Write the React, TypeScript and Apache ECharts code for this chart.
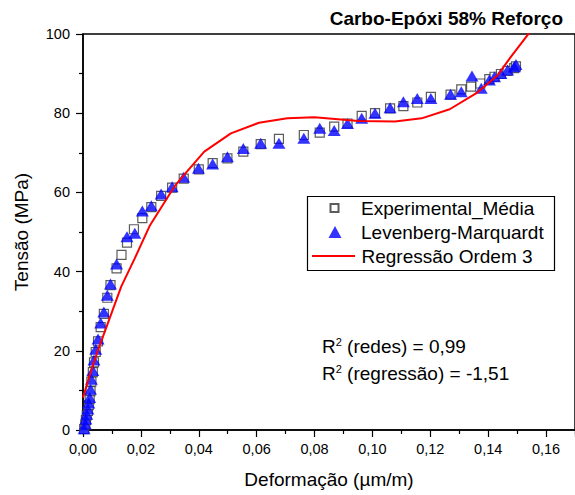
import React, { useEffect, useRef } from "react";
import * as echarts from "echarts";

const FONT = "'Liberation Sans', Arial, sans-serif";

const titleText = "Carbo-Epóxi 58% Reforço";
const xName = "Deformação (µm/m)";
const yName = "Tensão (MPa)";
const seriesNames = ["Experimental_Média", "Levenberg-Marquardt", "Regressão Ordem 3"];

// Experimental_Média (squares)
const expX = [0.0004, 0.0008, 0.001, 0.0013, 0.0017, 0.002, 0.0023, 0.0026, 0.0029, 0.0034, 0.0038, 0.0044, 0.0052, 0.0061, 0.0072, 0.0084, 0.0095, 0.0116, 0.0133, 0.0152, 0.0176, 0.0205, 0.0236, 0.027, 0.0308, 0.0348, 0.04, 0.0448, 0.0499, 0.0554, 0.0614, 0.0677, 0.0763, 0.0818, 0.0868, 0.0914, 0.0963, 0.1009, 0.1061, 0.1107, 0.1155, 0.1202, 0.127, 0.1307, 0.1341, 0.1373, 0.1404, 0.1422, 0.1444, 0.1467, 0.149, 0.1496];
const expY = [0.2, 1.3, 2.5, 3.7, 4.8, 6.3, 7.8, 9.8, 12.2, 14.6, 17.1, 19.7, 22.4, 26.0, 29.3, 33.4, 36.6, 40.8, 44.2, 47.3, 50.7, 53.5, 56.3, 59.1, 61.2, 63.5, 65.8, 67.4, 68.6, 70.3, 72.2, 73.5, 74.5, 75.1, 76.6, 77.4, 79.3, 80.0, 81.2, 81.8, 82.7, 84.1, 84.7, 86.0, 86.7, 87.5, 88.6, 89.2, 89.9, 90.7, 91.4, 91.8];

// Levenberg-Marquardt (triangles)
const lmX = [0.0004, 0.0008, 0.001, 0.0013, 0.0017, 0.002, 0.0023, 0.0026, 0.0029, 0.0034, 0.0038, 0.0044, 0.0052, 0.0061, 0.0072, 0.0084, 0.0095, 0.0116, 0.0152, 0.0179, 0.0205, 0.0236, 0.027, 0.0308, 0.0348, 0.0399, 0.0448, 0.0499, 0.0554, 0.0614, 0.0677, 0.0763, 0.0818, 0.0868, 0.0914, 0.0963, 0.1009, 0.1061, 0.1107, 0.1155, 0.1202, 0.127, 0.1307, 0.1344, 0.1376, 0.1404, 0.1422, 0.1444, 0.1467, 0.149, 0.1496];
const lmY = [0.3, 1.5, 2.8, 4.0, 5.3, 6.8, 8.2, 10.3, 12.8, 15.0, 17.7, 20.4, 23.0, 27.0, 29.8, 34.0, 36.9, 41.9, 48.8, 49.7, 55.3, 56.6, 59.6, 61.4, 63.8, 66.1, 67.2, 69.0, 71.1, 72.4, 72.4, 73.7, 76.2, 75.6, 77.4, 78.7, 80.0, 81.4, 82.9, 83.7, 83.7, 84.8, 85.4, 89.4, 86.3, 88.4, 89.2, 90.0, 90.9, 91.7, 92.3];

// Regressão Ordem 3 (red line)
const regX = [0, 0.0029, 0.0052, 0.0086, 0.0132, 0.0178, 0.023, 0.0316, 0.035, 0.0419, 0.0511, 0.0608, 0.0706, 0.08, 0.0952, 0.1078, 0.117, 0.1267, 0.1358, 0.1433, 0.1479, 0.1536, 0.1555];
const regY = [8.2, 15.2, 20.2, 27.0, 36.2, 43.2, 51.5, 61.5, 64.5, 70.3, 74.9, 77.6, 78.7, 79.0, 78.0, 77.9, 78.7, 81.0, 85.0, 89.6, 94.3, 99.7, 102.5];

const xTicks = { min: 0, max: 0.17, interval: 0.02 };
const yTicks = { min: 0, max: 100, interval: 20 };

const r2Lines = [
  { label: " (redes) = 0,99" },
  { label: " (regressão) = -1,51" },
];

const zip = (xs: number[], ys: number[]) => xs.map((x, i) => [x, ys[i]]);

export default function App() {
  const ref = useRef<HTMLDivElement>(null);
  useEffect(() => {
    if (!ref.current) return;
    const chart = echarts.init(ref.current, null, { renderer: "svg" });
    const axisCommon = {
      axisLine: { show: true, onZero: false, lineStyle: { color: "#000", width: 1.5 } },
      axisTick: { show: true, inside: false, length: 7, lineStyle: { color: "#000", width: 1.2 } },
      minorTick: { show: true, splitNumber: 2, length: 4, lineStyle: { color: "#000", width: 1.2 } },
      splitLine: { show: false },
      nameTextStyle: { fontFamily: FONT, fontSize: 19, color: "#000" },
    };
    const legendText = (padLeft: number) => ({
      fontFamily: FONT,
      fontSize: 19,
      color: "#000",
      lineHeight: 20,
      padding: [0, 0, 0, padLeft],
    });
    const legendCommon = {
      orient: "horizontal",
      itemGap: 0,
      padding: 0,
      selectedMode: false,
      symbolKeepAspect: true,
    };
    chart.setOption({
      animation: false,
      backgroundColor: "#fff",
      title: {
        text: titleText,
        right: 7,
        top: 4,
        textStyle: { fontFamily: FONT, fontSize: 19, fontWeight: "bold", color: "#000" },
      },
      grid: {
        left: 83,
        top: 34,
        right: -3,
        bottom: 65,
        show: true,
        borderColor: "#000",
        borderWidth: 1.5,
        backgroundColor: "transparent",
      },
      legend: [
        {
          ...legendCommon,
          left: 329.5,
          top: 198,
          itemWidth: 8,
          itemHeight: 8,
          textStyle: legendText(17.5),
          data: [{ name: seriesNames[0], icon: "rect" }],
        },
        {
          ...legendCommon,
          left: 328.5,
          top: 222,
          itemWidth: 13,
          itemHeight: 12,
          textStyle: legendText(14.5),
          data: [{ name: seriesNames[1], icon: "triangle" }],
        },
        {
          ...legendCommon,
          left: 312,
          top: 246,
          itemWidth: 43,
          itemHeight: 2,
          textStyle: legendText(1.5),
          data: [{ name: seriesNames[2], icon: "rect", itemStyle: { color: "#ff0000" } }],
        },
      ],
      xAxis: {
        type: "value",
        ...xTicks,
        ...axisCommon,
        name: xName,
        nameLocation: "middle",
        nameGap: 40,
        axisLabel: {
          fontFamily: FONT,
          fontSize: 14.5,
          color: "#000",
          margin: 11,
          showMaxLabel: false,
          formatter: (v: number) => v.toFixed(2).replace(".", ","),
        },
      },
      yAxis: {
        type: "value",
        ...yTicks,
        ...axisCommon,
        name: yName,
        nameLocation: "middle",
        nameGap: 52,
        axisLabel: {
          fontFamily: FONT,
          fontSize: 14.5,
          color: "#000",
          margin: 13,
          formatter: (v: number) => String(Math.round(v)),
        },
      },
      series: [
        {
          name: seriesNames[0],
          type: "scatter",
          symbol: "rect",
          symbolSize: 9,
          itemStyle: { color: "#fff", borderColor: "#333", borderWidth: 1.2 },
          data: zip(expX, expY),
          z: 2,
        },
        {
          name: seriesNames[1],
          type: "scatter",
          symbol: "triangle",
          symbolSize: [13, 11],
          itemStyle: { color: "#0000ff" },
          data: zip(lmX, lmY),
          z: 3,
        },
        {
          name: seriesNames[2],
          type: "line",
          symbol: "none",
          showSymbol: false,
          lineStyle: { color: "#ff0000", width: 2 },
          itemStyle: { color: "#ff0000" },
          clip: true,
          data: zip(regX, regY),
          z: 4,
        },
      ],
      graphic: [
        {
          type: "rect",
          left: 305,
          top: 194,
          shape: { width: 247, height: 74 },
          style: { fill: "none", stroke: "#000", lineWidth: 1.2 },
          z: 1,
        },
        ...r2Lines.map((l, i) => ({
          type: "text",
          left: 322,
          top: 336 + i * 27,
          style: {
            text: `{a|R}{s|2}{a|${l.label}}`,
            rich: {
              a: { fontFamily: FONT, fontSize: 19, fill: "#000", color: "#000" },
              s: { fontFamily: FONT, fontSize: 11, fill: "#000", color: "#000", padding: [0, 0, 9, 0] },
            },
          },
        })),
      ],
    });
    return () => chart.dispose();
  }, []);
  return <div ref={ref} style={{ width: 575, height: 495, position: "absolute", left: 0, top: 0 }} />;
}
